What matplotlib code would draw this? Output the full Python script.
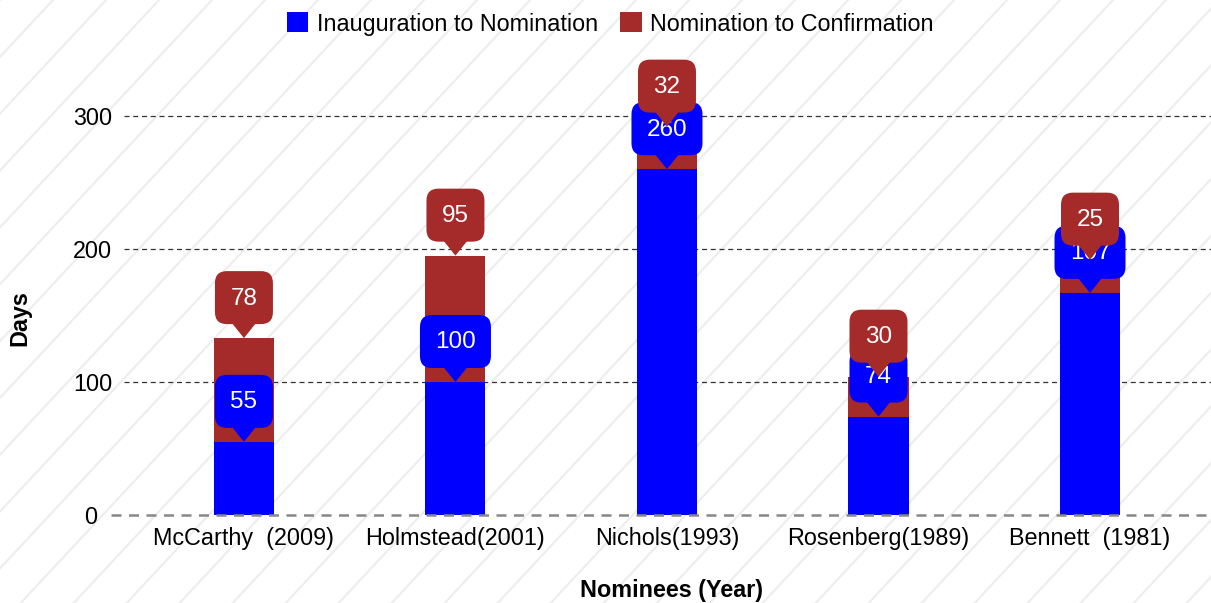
import matplotlib
matplotlib.use("Agg")
import matplotlib.pyplot as plt
from matplotlib.patches import FancyBboxPatch, Polygon, Patch
from matplotlib.lines import Line2D
from matplotlib.transforms import IdentityTransform
import numpy as np

plt.rcParams["font.family"] = ["Liberation Sans", "DejaVu Sans"]

# Data
nominees = ["McCarthy  (2009)", "Holmstead(2001)", "Nichols(1993)",
            "Rosenberg(1989)", "Bennett  (1981)"]
inaug_to_nom = [55, 100, 260, 74, 167]
nom_to_conf = [78, 95, 32, 30, 25]
inaug_labels = ["55", "100", "260", "74", "107"]
conf_labels = ["78", "95", "32", "30", "25"]
y_ticks = [0, 100, 200, 300]

blue = "#0000FF"
brown = "#A52A2A"
FS = 16.8

W, H = 1211, 603
fig = plt.figure(figsize=(W / 100, H / 100), dpi=100, facecolor="white")

# diagonal stripes in the background
ang = np.deg2rad(47)
dx = H / np.tan(ang)
for x0 in np.arange(-dx, W + 60, 53):
    fig.add_artist(Line2D([x0 / W, (x0 + dx) / W], [0, 1], transform=fig.transFigure,
                          color="#ededed", lw=1.5, zorder=0))

ax_left, ax_right, ax_bot, ax_top = 124, 1211, 515, 49.5
ax = fig.add_axes([ax_left / W, (H - ax_bot) / H, (ax_right - ax_left) / W,
                   (ax_bot - ax_top) / H])
ax.set_facecolor("none")

x = np.arange(len(nominees))
ax.bar(x, inaug_to_nom, width=0.284, color=blue, zorder=3)
ax.bar(x, nom_to_conf, width=0.284, bottom=inaug_to_nom, color=brown, zorder=3)

ax.set_xlim(-0.567, 4.572)
ax.set_ylim(0, 350)
ax.set_yticks(y_ticks)
ax.set_xticks(x)
ax.set_xticklabels(nominees)
ax.tick_params(axis="both", length=0, labelsize=FS)
ax.tick_params(axis="x", pad=9)
ax.tick_params(axis="y", pad=8.5)
ax.yaxis.get_major_ticks()[0].set_pad(19.5)
for s in ax.spines.values():
    s.set_visible(False)

for v in y_ticks[1:]:
    ax.axhline(v, color="#333333", lw=0.9, ls=(0, (4, 3)), zorder=1)
ax.axhline(0, xmin=-(ax_left - 111) / (ax_right - ax_left), xmax=1, color="#888888",
           lw=1.8, ls=(0, (4, 3)), zorder=4, clip_on=False)

ax.set_ylabel("Days", fontsize=FS, fontweight="bold")
ax.set_xlabel("Nominees (Year)", fontsize=FS, fontweight="bold")
ax.yaxis.label.set_va("center")
ax.xaxis.label.set_va("center")
ax.yaxis.set_label_coords((20 - ax_left) / (ax_right - ax_left), (ax_bot - 318) / (ax_bot - ax_top))
ax.xaxis.set_label_coords((671 - ax_left) / (ax_right - ax_left), (ax_bot - 590) / (ax_bot - ax_top))


def callout(xv, yv, text, color, z):
    px, py = ax.transData.transform((xv, yv))
    w = 58 if len(text) < 3 else 71
    h, tip = 53, 14
    tr = IdentityTransform()
    box = FancyBboxPatch((px - w / 2, py + tip), w, h,
                         boxstyle="round,pad=0,rounding_size=12",
                         transform=tr, fc=color, ec="none", zorder=z, clip_on=False)
    tri = Polygon([(px - 12, py + tip + 1), (px + 12, py + tip + 1), (px, py)],
                  transform=tr, fc=color, ec="none", zorder=z, clip_on=False)
    ax.add_artist(box)
    ax.add_artist(tri)
    ax.text(px, py + tip + h / 2 - 1, text, transform=tr, ha="center", va="center",
            color="white", fontsize=17.5, zorder=z + 0.1, clip_on=False)


for i in range(len(nominees)):
    callout(x[i], inaug_to_nom[i], inaug_labels[i], blue, 5)
for i in range(len(nominees)):
    callout(x[i], inaug_to_nom[i] + nom_to_conf[i], conf_labels[i], brown, 6)

handles = [Patch(facecolor=blue, edgecolor="none"), Patch(facecolor=brown, edgecolor="none")]
fig.legend(handles, ["Inauguration to Nomination", "Nomination to Confirmation"],
           loc="center", bbox_to_anchor=(610 / W, 1 - 24 / H), ncol=2, frameon=False,
           fontsize=FS, handlelength=0.94, handleheight=0.94, handletextpad=0.35,
           columnspacing=0.95)

fig.savefig("out.png", dpi=100, facecolor="white")
